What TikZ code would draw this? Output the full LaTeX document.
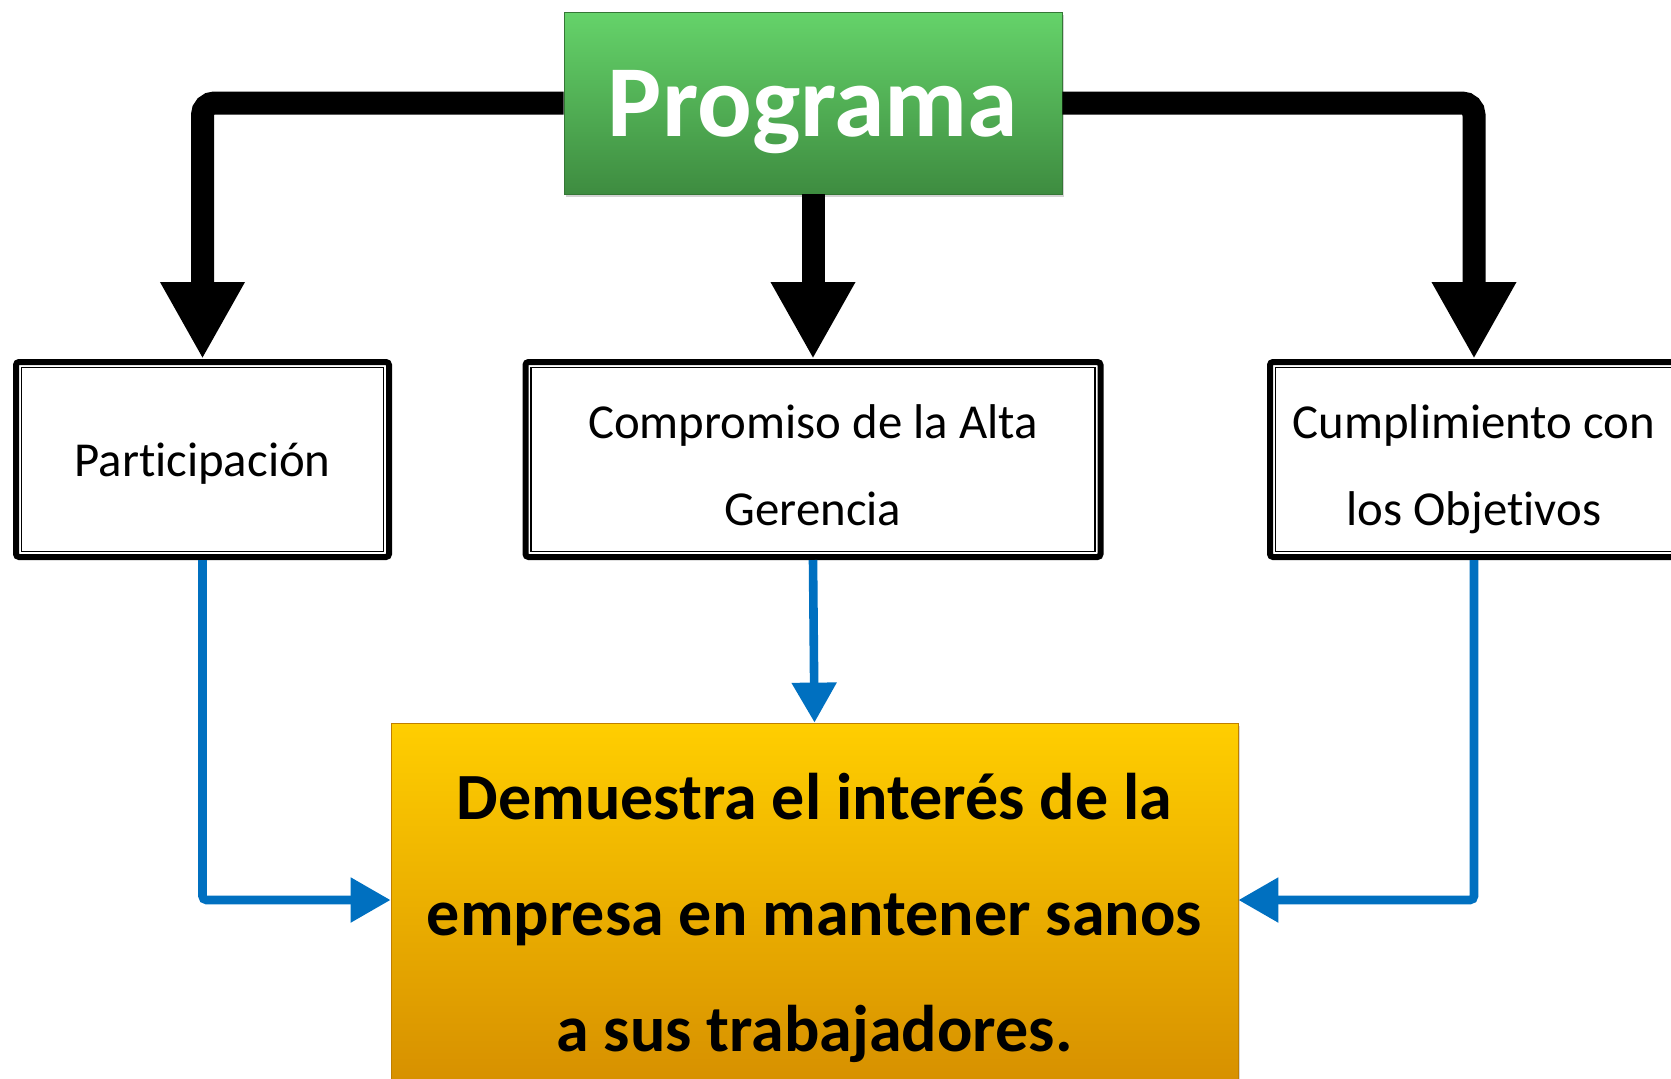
\documentclass[tikz,border=0pt]{standalone}
\usepackage{fontspec}
\setmainfont{Carlito}[Ligatures={NoCommon,NoContextual}]
\usetikzlibrary{arrows.meta,positioning,shadows}
\definecolor{progtop}{RGB}{101,211,106}
\definecolor{progbot}{RGB}{62,140,64}
\definecolor{goaltop}{RGB}{255,206,0}
\definecolor{goalbot}{RGB}{212,140,0}
\definecolor{linkblue}{RGB}{0,112,192}
\tikzset{
 prog/.style={shape=rectangle,minimum width=249pt,minimum height=91pt,
  top color=progtop,bottom color=progbot,draw=progbot!85!black,line width=0.4pt,
  text=white,font=\fontsize{51}{60}\selectfont\bfseries,
  text height=33.3pt,text depth=0pt,
  drop shadow={opacity=0.35,shadow xshift=1.2pt,shadow yshift=-1.5pt}},
 pillar/.style={shape=rectangle,draw=black,line width=3pt,rounded corners=1.5pt,
  fill=white,align=center,inner sep=0pt,minimum height=97.5pt,
  font=\fontsize{24.4}{43.5}\selectfont},
 inner/.style={draw=black,line width=0.85pt},
 goal/.style={shape=rectangle,minimum width=423.5pt,minimum height=192.5pt,
  top color=goaltop,bottom color=goalbot,draw=goalbot!90!black,line width=0.4pt,
  align=center,font=\fontsize{33}{58}\selectfont\bfseries,
  text height=136.2pt,text depth=0pt,
  drop shadow={opacity=0.3,shadow xshift=1.2pt,shadow yshift=-1.5pt}},
 blk/.style={draw=black,line width=11.5pt,rounded corners=6pt,
  -{Triangle[width=39.5pt,length=38.5pt]}},
 lnk/.style={draw=linkblue,line width=4.3pt,rounded corners=2pt,
  -{Triangle[width=21.5pt,length=20pt]}},
 elbow/.style={to path={-| (\tikztotarget)}},
 elbowv/.style={to path={|- (\tikztotarget)}}
}
\begin{document}
\begin{tikzpicture}[x=0.5pt,y=-0.5pt]
\useasboundingbox (0,0) rectangle (1671,1078);

\path (813,103) node[name=prog,prog] {Programa};

\path (202.5,459.5) node[name=part,pillar,minimum width=186.5pt,
  text height=21pt,text depth=4.5pt] {Participación};
\path (813,459.5) node[name=comp,pillar,minimum width=287.5pt,
  text height=65.9pt,text depth=0pt] {Compromiso de la Alta\\Gerencia};
\path (1474,459.5) node[name=cump,pillar,minimum width=204pt,
  text height=65.9pt,text depth=0pt] {Cumplimiento con\\los Objetivos};

\draw[inner] ([shift={(8.5,8.5)}]part.north west) rectangle ([shift={(-8.5,-8.5)}]part.south east);
\draw[inner] ([shift={(8.5,8.5)}]comp.north west) rectangle ([shift={(-8.5,-8.5)}]comp.south east);
\draw[inner] ([shift={(8.5,8.5)}]cump.north west) rectangle ([shift={(-8.5,-8.5)}]cump.south east);

\path (814.5,915.5) node[name=goal,goal] {Demuestra el interés de la\\empresa en mantener sanos\\a sus trabajadores.};

\path (prog.west) edge[blk,elbow] (part.north);
\path (prog.south) edge[blk] (comp.north);
\path (prog.east) edge[blk,elbow] (cump.north);

\path (part.south) edge[lnk,elbowv] ([yshift=7.75pt]goal.west);
\path (comp.south) edge[lnk] (goal.north);
\path (cump.south) edge[lnk,elbowv] ([yshift=7.75pt]goal.east);
\end{tikzpicture}
\end{document}
